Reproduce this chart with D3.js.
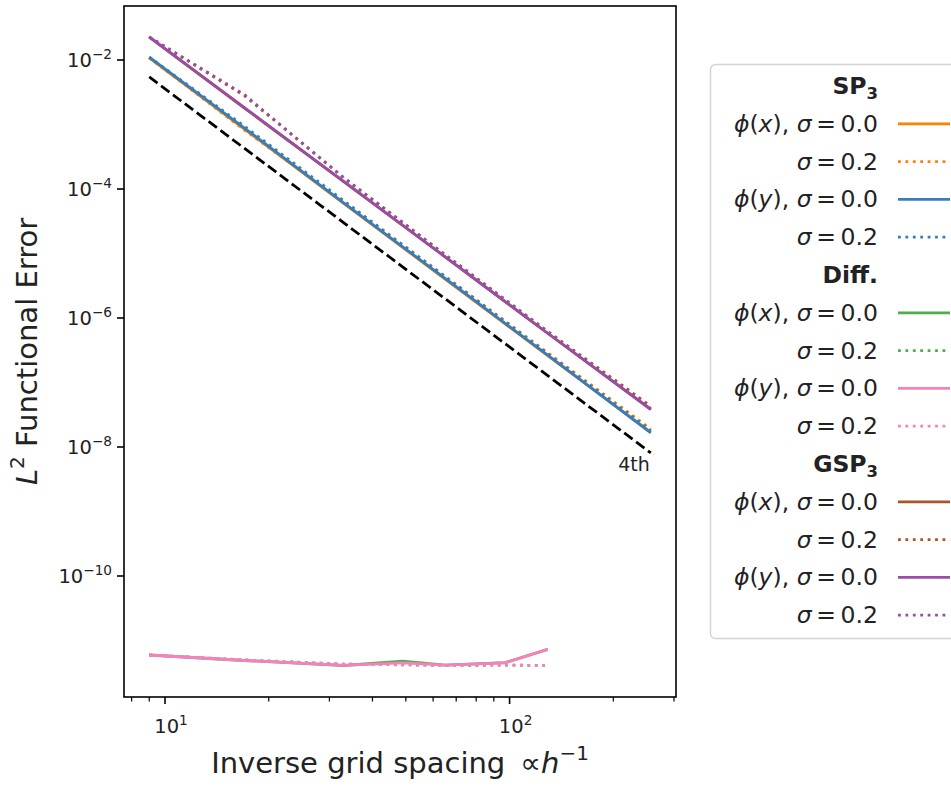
<!DOCTYPE html>
<html>
<head>
<meta charset="utf-8">
<script src="https://cdn.jsdelivr.net/npm/d3@7"></script>
<style>
  body { margin: 0; background: #fff; }
  svg { font-family: "DejaVu Sans", sans-serif; }
</style>
</head>
<body>
<div id="chart"></div>
<script>
// inverse grid spacing
var xFine = [9, 17, 33, 65, 129, 257];
var xDiff = [9, 17, 33, 49, 65, 97, 129];

// SP3
var sp3PhiX0 = [0.0108, 8.5e-4, 6.0e-5, 4.0e-6, 2.6e-7, 1.7e-8];
var sp3PhiX2 = [0.0108, 8.2e-4, 6.3e-5, 4.4e-6, 2.9e-7, 1.9e-8];
var sp3PhiY0 = [0.0111, 8.8e-4, 6.1e-5, 4.1e-6, 2.65e-7, 1.65e-8];
var sp3PhiY2 = [0.0111, 9.4e-4, 6.6e-5, 4.4e-6, 2.8e-7, 1.8e-8];
// Diff.
var diffPhiX0 = [5.96e-12, 4.9e-12, 4.1e-12, 4.8e-12, 4.15e-12, 4.55e-12, 7.3e-12];
var diffPhiX2 = [5.96e-12, 5.0e-12, 4.3e-12, 4.2e-12, 4.1e-12, 4.15e-12, 4.1e-12];
var diffPhiY0 = [5.96e-12, 4.9e-12, 4.1e-12, 4.5e-12, 4.15e-12, 4.5e-12, 7.3e-12];
var diffPhiY2 = [5.96e-12, 5.0e-12, 4.3e-12, 4.2e-12, 4.1e-12, 4.15e-12, 4.1e-12];
// GSP3
var gspPhiX0 = [0.0226, 1.8e-3, 1.3e-4, 8.9e-6, 5.8e-7, 3.85e-8];
var gspPhiX2 = [0.0226, 2.8e-3, 1.5e-4, 9.6e-6, 6.2e-7, 4.3e-8];
var gspPhiY0 = [0.0228, 1.82e-3, 1.31e-4, 8.9e-6, 5.8e-7, 3.8e-8];
var gspPhiY2 = [0.0228, 2.9e-3, 1.5e-4, 9.5e-6, 6.1e-7, 4.0e-8];
// 4th order reference
var refX = [9, 257];
var refY = [5.45e-3, 8.1e-9];

// ticks
var xMajor = [10, 100];
var xMajorExp = ['1', '2'];
var xMinor = [8, 9, 20, 30, 40, 50, 60, 70, 80, 90, 200, 300];
var yMajor = [1e-2, 1e-4, 1e-6, 1e-8, 1e-10];
var yMajorExp = ['\u22122', '\u22124', '\u22126', '\u22128', '\u221210'];

var groupTitles = [['SP', '3'], ['Diff.', ''], ['GSP', '3']];
var sigmaValues = ['0.0', '0.2'];
var phiVars = ['x', 'y'];

var colors = {orange: '#ff7f00', blue: '#377eb8', green: '#4daf4a',
  pink: '#f781bf', brown: '#a65628', purple: '#984ea3'};

var width = 951, height = 786;
var plot = {left: 124, right: 676, top: 6, bottom: 697};

var svg = d3.select('#chart').append('svg')
  .attr('width', width)
  .attr('height', height);

var x = d3.scaleLog()
  .domain([Math.pow(10, 0.881), Math.pow(10, 2.483)])
  .range([plot.left, plot.right]);
var y = d3.scaleLog()
  .domain([Math.pow(10, -11.876), Math.pow(10, -1.163)])
  .range([plot.bottom, plot.top]);

// series table, in matplotlib draw order
var series = [
  {xs: xFine, ys: sp3PhiX0, color: colors.orange, dotted: false},
  {xs: xFine, ys: sp3PhiX2, color: colors.orange, dotted: true},
  {xs: xFine, ys: sp3PhiY0, color: colors.blue, dotted: false},
  {xs: xFine, ys: sp3PhiY2, color: colors.blue, dotted: true},
  {xs: xDiff, ys: diffPhiX0, color: colors.green, dotted: false},
  {xs: xDiff, ys: diffPhiX2, color: colors.green, dotted: true},
  {xs: xDiff, ys: diffPhiY0, color: colors.pink, dotted: false},
  {xs: xDiff, ys: diffPhiY2, color: colors.pink, dotted: true},
  {xs: xFine, ys: gspPhiX0, color: colors.brown, dotted: false},
  {xs: xFine, ys: gspPhiX2, color: colors.brown, dotted: true},
  {xs: xFine, ys: gspPhiY0, color: colors.purple, dotted: false},
  {xs: xFine, ys: gspPhiY2, color: colors.purple, dotted: true}
];

var line = d3.line()
  .x(function(d) { return x(d[0]); })
  .y(function(d) { return y(d[1]); });

var lw = 2.8;
svg.append('g').selectAll('path')
  .data(series)
  .enter().append('path')
  .attr('d', function(s) { return line(d3.zip(s.xs, s.ys)); })
  .attr('fill', 'none')
  .attr('stroke', function(s) { return s.color; })
  .attr('stroke-width', lw)
  .attr('stroke-dasharray', function(s) { return s.dotted ? (lw * 1) + ',' + (lw * 1.65) : null; });

// reference slope
svg.append('path')
  .attr('d', line(d3.zip(refX, refY)))
  .attr('fill', 'none')
  .attr('stroke', '#000')
  .attr('stroke-width', lw)
  .attr('stroke-dasharray', (lw * 3.7) + ',' + (lw * 1.6));

svg.append('text')
  .attr('x', x(refX[1]) - 1)
  .attr('y', y(refY[1]) + 18)
  .attr('text-anchor', 'end')
  .attr('font-size', 19)
  .attr('fill', '#222')
  .text('4th');

// frame
svg.append('rect')
  .attr('x', plot.left)
  .attr('y', plot.top)
  .attr('width', plot.right - plot.left)
  .attr('height', plot.bottom - plot.top)
  .attr('fill', 'none')
  .attr('stroke', '#000')
  .attr('stroke-width', 1.6);

// x ticks
var gx = svg.append('g');
gx.selectAll('line.minor')
  .data(xMinor)
  .enter().append('line')
  .attr('x1', function(d) { return x(d); })
  .attr('x2', function(d) { return x(d); })
  .attr('y1', plot.bottom)
  .attr('y2', plot.bottom + 4.5)
  .attr('stroke', '#000')
  .attr('stroke-width', 1.2);
gx.selectAll('line.major')
  .data(xMajor)
  .enter().append('line')
  .attr('x1', function(d) { return x(d); })
  .attr('x2', function(d) { return x(d); })
  .attr('y1', plot.bottom)
  .attr('y2', plot.bottom + 7)
  .attr('stroke', '#000')
  .attr('stroke-width', 1.6);

var powLabel = function(sel, exp, size) {
  sel.append('tspan').text('10');
  sel.append('tspan')
    .attr('font-size', size * 0.7)
    .attr('dy', -size * 0.42)
    .text(exp);
};

xMajor.forEach(function(d, i) {
  var t = svg.append('text')
    .attr('x', x(d) + 6)
    .attr('y', plot.bottom + 36)
    .attr('text-anchor', 'middle')
    .attr('font-size', 19.5)
    .attr('fill', '#222');
  powLabel(t, xMajorExp[i], 19.5);
});

// y ticks
svg.append('g').selectAll('line')
  .data(yMajor)
  .enter().append('line')
  .attr('x1', plot.left)
  .attr('x2', plot.left - 7)
  .attr('y1', function(d) { return y(d); })
  .attr('y2', function(d) { return y(d); })
  .attr('stroke', '#000')
  .attr('stroke-width', 1.6);

yMajor.forEach(function(d, i) {
  var t = svg.append('text')
    .attr('x', plot.left - 12)
    .attr('y', y(d) + 7)
    .attr('text-anchor', 'end')
    .attr('font-size', 19.5)
    .attr('fill', '#222');
  powLabel(t, yMajorExp[i], 19.5);
});

// axis labels
var xl = svg.append('text')
  .attr('x', (plot.left + plot.right) / 2)
  .attr('y', 773)
  .attr('text-anchor', 'middle')
  .attr('font-size', 29)
  .attr('fill', '#222');
xl.append('tspan').text('Inverse grid spacing \u2009\u221D');
xl.append('tspan').attr('font-style', 'italic').text('h');
xl.append('tspan').attr('font-size', 20).attr('dy', -13).text('\u22121');

var yl = svg.append('text')
  .attr('transform', 'translate(37,' + ((plot.top + plot.bottom) / 2) + ') rotate(-90)')
  .attr('text-anchor', 'middle')
  .attr('font-size', 29)
  .attr('fill', '#222');
yl.append('tspan').attr('font-style', 'italic').text('L');
yl.append('tspan').attr('font-size', 20).attr('dy', -13).text('2');
yl.append('tspan').attr('dy', 13).text(' Functional Error');

// legend
var leg = {left: 710, top: 64, rowH: 37.8, textX: 878, h0: 898, h1: 950, fs: 23.5};
svg.append('rect')
  .attr('x', leg.left + 0.5)
  .attr('y', leg.top + 0.5)
  .attr('width', 280)
  .attr('height', 574)
  .attr('rx', 5)
  .attr('fill', '#fff')
  .attr('fill-opacity', 0.8)
  .attr('stroke', '#d4d4d4')
  .attr('stroke-width', 1.5);

var legendRows = [];
groupTitles.forEach(function(title, g) {
  legendRows.push({title: title});
  phiVars.forEach(function(v, j) {
    sigmaValues.forEach(function(s, k) {
      legendRows.push({phi: k === 0 ? v : null, sigma: s, s: series[g * 4 + j * 2 + k]});
    });
  });
});

legendRows.forEach(function(r, i) {
  var cy = leg.top + 22 + i * leg.rowH;
  var t = svg.append('text')
    .attr('x', leg.textX)
    .attr('y', cy + 8)
    .attr('text-anchor', 'end')
    .attr('font-size', leg.fs)
    .attr('fill', '#222');
  if (r.title) {
    t.attr('font-weight', 'bold');
    t.append('tspan').text(r.title[0]);
    if (r.title[1]) {
      t.append('tspan').attr('font-size', leg.fs * 0.7).attr('dy', 5).text(r.title[1]);
    }
    return;
  }
  if (r.phi) {
    t.append('tspan').attr('font-style', 'italic').text('\u03D5');
    t.append('tspan').text('(');
    t.append('tspan').attr('font-style', 'italic').text(r.phi);
    t.append('tspan').text('), ');
  }
  t.append('tspan').attr('font-style', 'italic').text('\u03C3');
  t.append('tspan').text('\u2009=\u2009' + r.sigma);
  svg.append('line')
    .attr('x1', leg.h0)
    .attr('x2', leg.h1)
    .attr('y1', cy)
    .attr('y2', cy)
    .attr('stroke', r.s.color)
    .attr('stroke-width', lw)
    .attr('stroke-dasharray', r.s.dotted ? (lw * 1) + ',' + (lw * 1.65) : null);
});
</script>
</body>
</html>
